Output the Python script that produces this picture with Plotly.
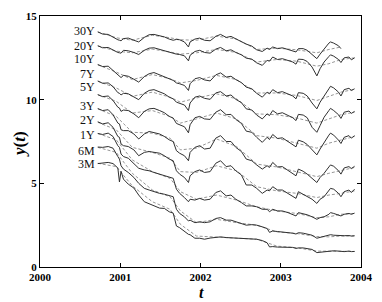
import plotly.graph_objects as go

# ---- data ----
dates = [2000.72, 2000.78, 2000.85, 2000.91, 2000.97, 2000.99, 2001.01, 2001.04, 2001.10, 2001.17,
         2001.23, 2001.30, 2001.36, 2001.42, 2001.49, 2001.55, 2001.61, 2001.66, 2001.70, 2001.74,
         2001.80, 2001.85, 2001.87, 2001.93, 2001.99, 2002.05, 2002.12, 2002.19, 2002.25, 2002.32,
         2002.38, 2002.44, 2002.51, 2002.57, 2002.64, 2002.70, 2002.77, 2002.83, 2002.86, 2002.90,
         2002.96, 2003.02, 2003.09, 2003.15, 2003.19, 2003.22, 2003.28, 2003.33, 2003.39, 2003.45,
         2003.49, 2003.54, 2003.60, 2003.62, 2003.66, 2003.72, 2003.75, 2003.79, 2003.85, 2003.88,
         2003.92]

y_3M = [6.18, 6.22, 6.25, 6.18, 5.92, 5.08, 5.72, 5.25, 4.95, 4.72,
        4.30, 3.90, 3.78, 3.62, 3.52, 3.50, 3.30, 3.22, 2.45, 2.35,
        2.12, 1.95, 1.93, 1.72, 1.72, 1.66, 1.73, 1.78, 1.80, 1.76,
        1.74, 1.72, 1.70, 1.66, 1.67, 1.66, 1.58, 1.45, 1.20, 1.22,
        1.19, 1.17, 1.16, 1.17, 1.11, 1.14, 1.14, 1.11, 1.05, 0.86,
        0.88, 0.90, 0.95, 0.96, 0.97, 0.95, 0.94, 0.92, 0.95, 0.92,
        0.93]
y_6M = [7.17, 7.15, 7.20, 7.10, 6.60, 6.45, 6.05, 5.85, 5.65, 5.35,
        5.00, 4.70, 4.60, 4.50, 4.40, 4.35, 4.25, 4.20, 3.45, 3.20,
        3.00, 2.75, 2.80, 2.65, 2.70, 2.65, 2.70, 2.90, 2.95, 2.80,
        2.80, 2.70, 2.60, 2.50, 2.53, 2.50, 2.40, 2.30, 2.07, 2.15,
        2.12, 2.10, 2.05, 2.02, 1.97, 2.05, 2.02, 1.98, 1.90, 1.72,
        1.77, 1.80, 1.88, 1.93, 1.90, 1.87, 1.85, 1.87, 1.88, 1.85,
        1.87]
y_1Y = [7.98, 7.92, 8.00, 7.80, 7.25, 7.15, 6.75, 6.60, 6.50, 6.20,
        5.90, 5.80, 5.75, 5.65, 5.55, 5.45, 5.35, 5.30, 4.65, 4.40,
        4.15, 3.90, 4.05, 4.00, 4.10, 4.00, 4.05, 4.45, 4.55, 4.25,
        4.30, 4.05, 3.85, 3.65, 3.65, 3.60, 3.45, 3.45, 3.30, 3.45,
        3.35, 3.35, 3.25, 3.15, 3.05, 3.25, 3.20, 3.12, 3.00, 2.85,
        2.95, 3.00, 3.15, 3.25, 3.20, 3.12, 3.05, 3.15, 3.20, 3.15,
        3.22]
y_2Y = [8.68, 8.55, 8.62, 8.35, 7.80, 7.75, 7.35, 7.25, 7.20, 7.00,
        6.65, 6.85, 6.90, 6.85, 6.80, 6.65, 6.45, 6.35, 5.75, 5.55,
        5.35, 5.05, 5.45, 5.70, 5.80, 5.65, 5.70, 6.20, 6.35, 6.00,
        6.05, 5.75, 5.50, 4.90, 4.90, 4.70, 4.40, 4.60, 4.55, 4.80,
        4.60, 4.60, 4.40, 4.25, 4.10, 4.50, 4.35, 4.20, 4.05, 3.80,
        4.05, 4.20, 4.55, 4.70, 4.65, 4.40, 4.20, 4.50, 4.60, 4.45,
        4.65]
y_3Y = [9.47, 9.35, 9.40, 9.10, 8.60, 8.55, 8.20, 8.15, 8.15, 7.95,
        7.65, 7.95, 8.10, 8.05, 7.95, 7.80, 7.60, 7.50, 6.95, 6.80,
        6.65, 6.35, 6.85, 7.15, 7.25, 7.05, 7.10, 7.70, 7.85, 7.50,
        7.50, 7.15, 6.90, 6.45, 6.35, 6.10, 5.85, 6.05, 5.95, 6.25,
        5.98, 6.00, 5.78, 5.62, 5.45, 5.85, 5.72, 5.55, 5.30, 5.05,
        5.35, 5.60, 5.98, 6.10, 6.02, 5.75, 5.55, 5.92, 6.00, 5.88,
        6.02]
y_5Y = [10.30, 10.18, 10.22, 9.95, 9.55, 9.50, 9.30, 9.38, 9.35, 9.15,
        8.92, 9.30, 9.45, 9.48, 9.35, 9.22, 9.00, 8.90, 8.58, 8.48,
        8.38, 8.02, 8.50, 8.92, 9.00, 8.85, 8.82, 9.25, 9.40, 9.10,
        9.12, 8.82, 8.58, 8.12, 8.05, 7.75, 7.45, 7.75, 7.62, 7.92,
        7.68, 7.72, 7.50, 7.35, 7.18, 7.58, 7.48, 7.32, 7.02, 6.70,
        7.05, 7.45, 7.88, 8.00, 7.88, 7.58, 7.38, 7.75, 7.85, 7.70,
        7.85]
y_7Y = [11.12, 10.98, 11.00, 10.78, 10.42, 10.38, 10.28, 10.38, 10.35, 10.15,
        10.00, 10.38, 10.55, 10.60, 10.45, 10.35, 10.15, 10.05, 9.85, 9.78,
        9.68, 9.35, 9.80, 10.15, 10.22, 10.08, 10.02, 10.40, 10.48, 10.22,
        10.28, 10.02, 9.82, 9.45, 9.38, 9.08, 8.85, 9.15, 9.05, 9.35,
        9.15, 9.22, 9.05, 8.92, 8.75, 9.12, 9.08, 8.92, 8.35, 8.05,
        8.45, 8.95, 9.35, 9.48, 9.35, 9.10, 8.88, 9.25, 9.32, 9.18,
        9.30]
y_10Y = [12.10, 11.98, 12.00, 11.75, 11.45, 11.40, 11.32, 11.45, 11.40, 11.22,
         11.05, 11.38, 11.55, 11.62, 11.50, 11.40, 11.25, 11.15, 11.00, 10.95,
         10.85, 10.55, 10.95, 11.25, 11.32, 11.18, 11.12, 11.48, 11.60, 11.35,
         11.40, 11.20, 11.02, 10.75, 10.65, 10.38, 10.15, 10.45, 10.35, 10.60,
         10.42, 10.48, 10.35, 10.22, 10.05, 10.42, 10.38, 10.22, 9.80, 9.45,
         9.85, 10.25, 10.65, 10.80, 10.70, 10.45, 10.22, 10.60, 10.68, 10.55,
         10.65]
y_20Y = [13.22, 13.10, 13.12, 12.95, 12.82, 12.80, 12.78, 12.95, 12.92, 12.82,
         12.70, 12.95, 13.08, 13.10, 13.00, 12.95, 12.85, 12.78, 12.72, 12.70,
         12.62, 12.32, 12.65, 12.88, 12.95, 12.82, 12.78, 13.02, 13.12, 12.92,
         12.98, 12.82, 12.68, 12.48, 12.42, 12.20, 12.05, 12.35, 12.30, 12.55,
         12.40, 12.45, 12.35, 12.25, 12.12, 12.42, 12.40, 12.28, 11.95, 11.42,
         11.85, 12.25, 12.58, 12.68, 12.60, 12.40, 12.22, 12.50, 12.55, 12.38,
         12.50]
y_30Y = [14.05, 13.92, 13.90, 13.72, 13.58, 13.55, 13.52, 13.65, 13.68, 13.55,
         13.45, 13.72, 13.88, 13.90, 13.82, 13.75, 13.62, 13.55, 13.60, 13.58,
         13.45, 13.15, 13.45, 13.62, 13.68, 13.55, 13.52, 13.78, 13.90, 13.72,
         13.78, 13.62, 13.48, 13.32, 13.20, 12.98, 12.88, 13.08, 13.00, 13.15,
         13.05, 13.10, 13.00, 12.90, 12.85, 13.05, 13.05, 12.95, 12.70, 12.45,
         12.72, 13.05, 13.38, 13.45, 13.38, 13.22, 13.05]

fit_dates = [2000.72, 2000.95, 2001.15, 2001.40, 2001.62, 2001.75, 2001.95, 2002.20,
             2002.45, 2002.70, 2002.95, 2003.20, 2003.45, 2003.60, 2003.75, 2003.92]
fit_3M = [6.20, 6.00, 4.85, 3.90, 3.45, 2.55, 1.85, 1.78, 1.72, 1.66, 1.25, 1.15, 0.95, 0.93, 0.95, 0.93]
fit_6M = [7.15, 6.85, 5.60, 4.60, 4.20, 3.35, 2.65, 2.85, 2.65, 2.50, 2.10, 2.00, 1.82, 1.80, 1.85, 1.85]
fit_1Y = [7.98, 7.60, 6.40, 5.70, 5.30, 4.50, 4.05, 4.30, 4.00, 3.60, 3.35, 3.20, 2.95, 3.00, 3.15, 3.20]
fit_2Y = [8.65, 8.20, 7.15, 6.85, 6.50, 5.70, 5.65, 6.05, 5.75, 4.80, 4.55, 4.40, 4.15, 4.30, 4.40, 4.55]
fit_3Y = [9.45, 9.00, 8.05, 8.00, 7.70, 7.00, 7.10, 7.65, 7.20, 6.15, 5.98, 5.70, 5.40, 5.60, 5.75, 5.95]
fit_5Y = [10.30, 9.90, 9.20, 9.35, 9.00, 8.60, 8.85, 9.20, 8.85, 7.85, 7.70, 7.40, 7.10, 7.40, 7.60, 7.80]
fit_7Y = [11.10, 10.70, 10.20, 10.45, 10.15, 9.85, 10.10, 10.35, 10.05, 9.15, 9.10, 8.90, 8.60, 8.85, 9.10, 9.25]
fit_10Y = [12.08, 11.65, 11.20, 11.50, 11.25, 11.00, 11.15, 11.45, 11.20, 10.40, 10.40, 10.25, 9.95, 10.20, 10.45, 10.62]
fit_20Y = [13.22, 12.90, 12.80, 13.02, 12.85, 12.72, 12.80, 13.00, 12.82, 12.25, 12.40, 12.30, 12.00, 12.15, 12.40, 12.50]
fit_30Y = [14.05, 13.70, 13.55, 13.85, 13.70, 13.58, 13.55, 13.80, 13.62, 13.00, 13.08, 12.98, 12.80, 13.00, 13.15]

labels = ["3M", "6M", "1Y", "2Y", "3Y", "5Y", "7Y", "10Y", "20Y", "30Y"]
label_y = [6.16, 6.94, 7.90, 8.76, 9.63, 10.74, 11.56, 12.43, 13.22, 14.09]
x_ticks = [2000, 2001, 2002, 2003, 2004]
y_ticks = [0, 5, 10, 15]

series = [y_3M, y_6M, y_1Y, y_2Y, y_3Y, y_5Y, y_7Y, y_10Y, y_20Y, y_30Y]
fits = [fit_3M, fit_6M, fit_1Y, fit_2Y, fit_3Y, fit_5Y, fit_7Y, fit_10Y, fit_20Y, fit_30Y]

SERIF = "Times New Roman, Liberation Serif, serif"

fig = go.Figure()
for name, ys, fs in zip(labels, series, fits):
    fig.add_trace(go.Scatter(x=fit_dates[:len(fs)], y=fs, mode="lines",
                             line=dict(color="#8a8a8a", width=0.9, dash="3px,2px"),
                             showlegend=False, hoverinfo="skip"))
    fig.add_trace(go.Scatter(x=dates[:len(ys)], y=ys, mode="lines", name=name,
                             line=dict(color="#303030", width=1.0),
                             showlegend=False))

for name, ly in zip(labels, label_y):
    fig.add_annotation(x=dates[0], y=ly, text=name, showarrow=False,
                       xanchor="right", yanchor="middle", xshift=-1,
                       font=dict(family=SERIF, size=12, color="#111"))

fig.add_annotation(xref="paper", yref="paper", x=-0.0654, y=0.49,
                   xanchor="center", yanchor="middle",
                   text="<b><i>y</i>(<i>t</i>)</b>", textangle=-90, showarrow=False,
                   font=dict(family=SERIF, size=17, color="#000"))
fig.add_annotation(xref="paper", yref="paper", x=0.504, y=-0.102,
                   xanchor="center", yanchor="middle",
                   text="<b><i>t</i></b>", showarrow=False,
                   font=dict(family=SERIF, size=16, color="#000"))

axis_common = dict(showgrid=False, zeroline=False, showline=True, linecolor="#000",
                   linewidth=1, mirror="ticks", ticks="inside", ticklen=4,
                   tickcolor="#000", tickwidth=1,
                   tickfont=dict(family=SERIF, size=11, color="#000", weight="bold"))

fig.update_layout(
    width=382, height=302,
    margin=dict(l=39.5, r=14, t=9.5, b=34.7),
    paper_bgcolor="white", plot_bgcolor="white",
    xaxis=dict(range=[2000, 2004], tickvals=x_ticks, ticktext=[str(v) for v in x_ticks], **axis_common),
    yaxis=dict(range=[0, 15], tickvals=y_ticks, **axis_common),
)

fig.write_html("out.html", config={"displayModeBar": False},
               post_script="document.body.style.margin='0';document.body.style.padding='0';")
